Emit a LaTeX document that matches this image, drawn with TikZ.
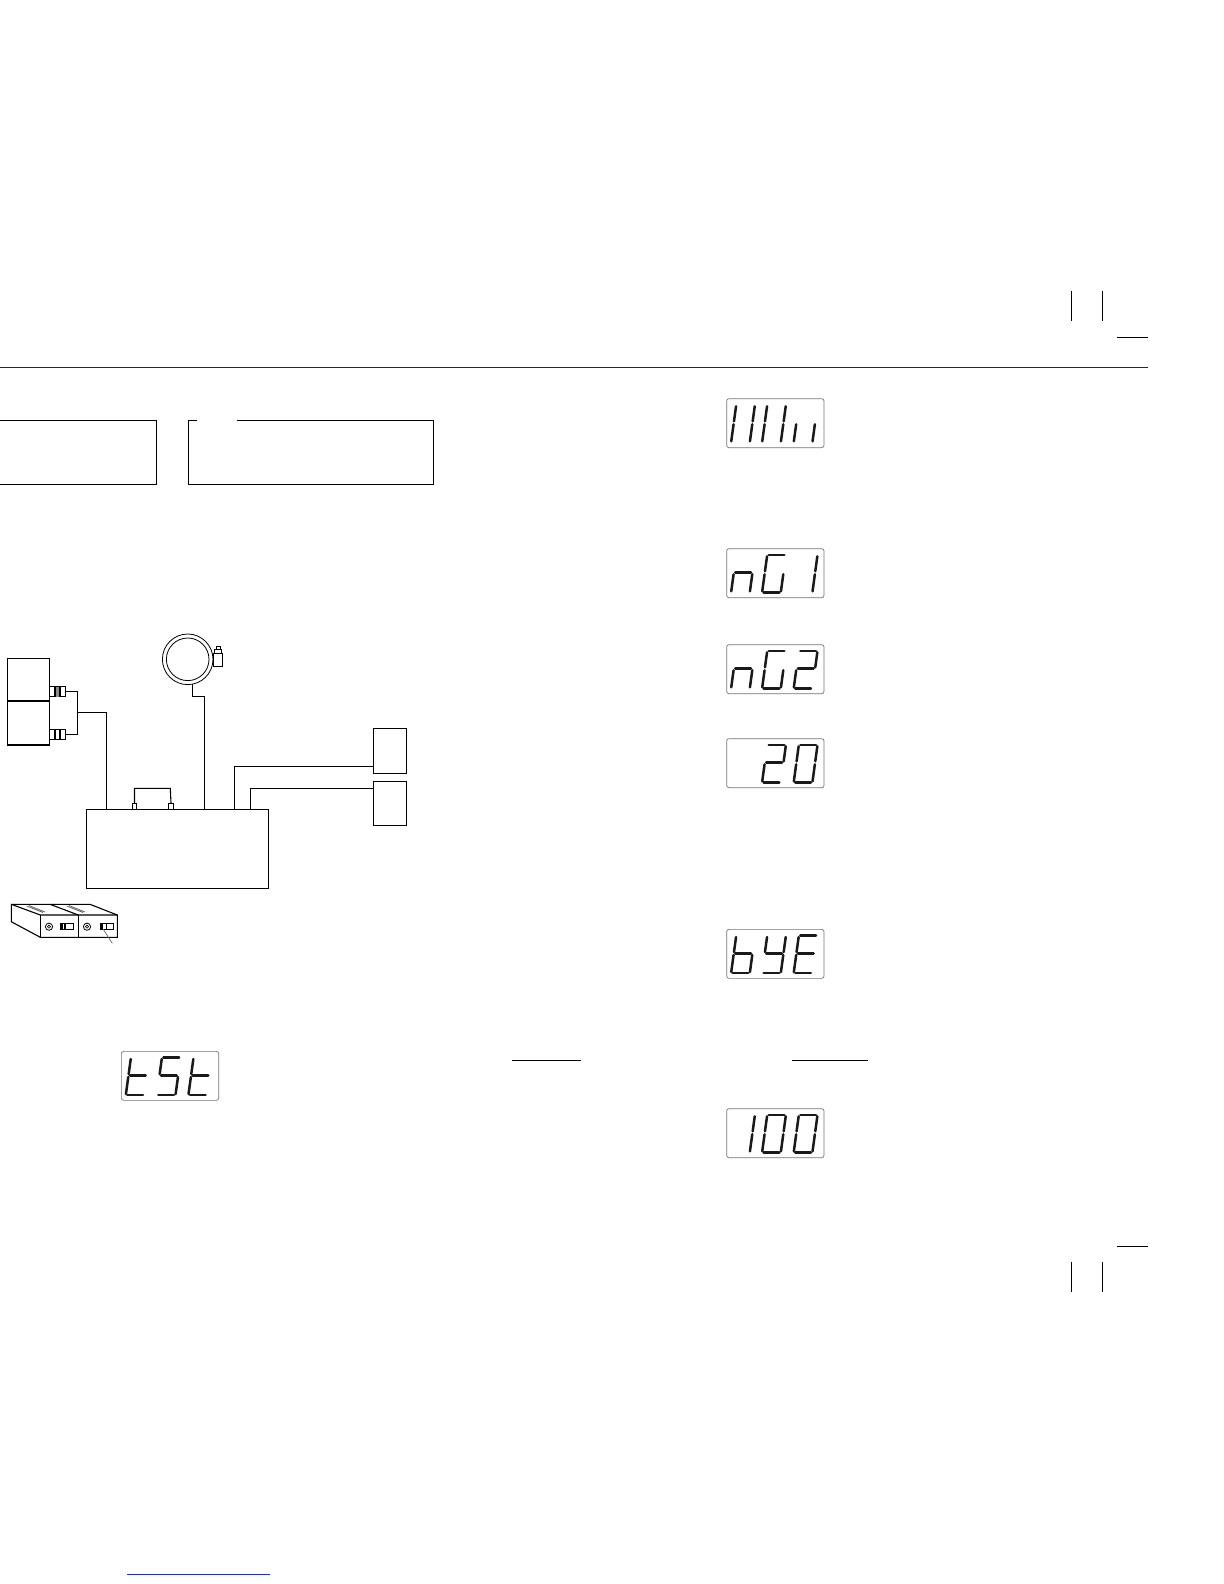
\documentclass[tikz,border=0pt]{standalone}
\usepackage{amsmath}
\definecolor{linkblue}{rgb}{0.1,0.2,0.75}

% one stroke each of a seven-segment digit
\newcommand{\lcdsega}{\draw[lcdseg] (1.5,37.3) -- (17.2,37.3);}
\newcommand{\lcdsegb}{\draw[lcdseg] (18.7,21) -- (18.7,36);}
\newcommand{\lcdsegc}{\draw[lcdseg] (18.7,1) -- (18.7,18);}
\newcommand{\lcdsegd}{\draw[lcdseg] (1.5,0) -- (17.2,0);}
\newcommand{\lcdsege}{\draw[lcdseg] (0,1) -- (0,18);}
\newcommand{\lcdsegf}{\draw[lcdseg] (0,21) -- (0,36);}
\newcommand{\lcdsegg}{\draw[lcdseg] (1.5,19.6) -- (17.2,19.6);}

\newcommand{\lcddigit}[2]{
  \begin{scope}[shift={(#1,-44)},xslant=.137]
    \foreach \s in {#2} {\csname lcdseg\s\endcsname}
  \end{scope}
}
% name, x, y, then the strokes of the three digits
\newcommand{\lcdpanel}[6]{
  \begin{scope}[shift={(#2,#3)}]
    \node[lcdbox] (#1) at (0,0) {};
    \lcddigit{4.8}{#4}
    \lcddigit{35.8}{#5}
    \lcddigit{67.4}{#6}
  \end{scope}
}

\tikzset{
  plainbox/.style={draw,rectangle,inner sep=0pt,outer sep=0pt,anchor=north west},
  lcdbox/.style={draw=black!55,line width=.35bp,rounded corners=1.2bp,inner sep=0pt,
    anchor=north west,minimum width=48.7bp,minimum height=24.5bp},
  lcdseg/.style={line width=1.25bp,line cap=round,black!90},
  ring/.style={draw,circle,inner sep=0pt,outer sep=0pt,line width=.4bp},
  wire/.style={line width=.55bp},
}

\begin{document}
\begin{tikzpicture}[x=.5bp,y=.5bp,line width=.55bp]
\useasboundingbox (0,0) rectangle (1224,-1584);

% crop marks and rule
\draw (1071.5,-291) -- (1071.5,-320.7);
\draw (1102.5,-291) -- (1102.5,-320.7);
\draw (1117,-337.5) -- (1148,-337.5);
\draw[black!85] (0,-367.5) -- (1148,-367.5);
\draw (1117,-1246.5) -- (1148,-1246.5);
\draw (1071.5,-1262) -- (1071.5,-1292);
\draw (1102.5,-1262) -- (1102.5,-1292);

% the two frames
\draw (0,-420.5) -- (156.5,-420.5) -- (156.5,-484.5) -- (0,-484.5);
\draw (197,-420.5) -- (188.5,-420.5) -- (188.5,-484.5) -- (433.5,-484.5)
  -- (433.5,-420.5) -- (237,-420.5);

% underlines
\draw (512,-1060.5) -- (581,-1060.5);
\draw (792,-1060.5) -- (867.5,-1060.5);
\draw[linkblue] (127,-1574.5) -- (270,-1574.5);

% wiring diagram
\node[plainbox,minimum width=21bp,minimum height=21.25bp] (senstop) at (7.5,-658.5) {};
\node[plainbox,minimum width=21bp,minimum height=22bp] (sensbot) at (7.5,-701) {};
\node[plainbox,minimum width=8bp,minimum height=5bp] (plugtop) at (49.5,-686.5) {};
\node[plainbox,minimum width=8bp,minimum height=5bp] (plugbot) at (49.5,-729.5) {};
\fill[black!45] (55,-686.5) rectangle (60,-696.5);
\draw (55,-686.5) -- (55,-696.5) (60,-686.5) -- (60,-696.5);
\draw (55,-729.5) -- (55,-739.5) (60,-729.5) -- (60,-739.5);

\node[plainbox,minimum width=91bp,minimum height=39.5bp] (ctrl) at (86.5,-809.5) {};
\node[plainbox,minimum width=16.5bp,minimum height=22.5bp] (loadtop) at (373.5,-728.5) {};
\node[plainbox,minimum width=16.5bp,minimum height=22bp] (loadbot) at (373.5,-781.5) {};

\node[ring,minimum size=25.3bp] (gauge) at (187.7,-659.3) {};
\node[ring,minimum size=21.3bp] (gaugein) at (187.7,-659.3) {};
\node[plainbox,minimum width=4.7bp,minimum height=6.7bp,line width=.45bp] (valve) at (213.3,-653.3) {};
\node[plainbox,minimum width=3.5bp,minimum height=2bp,line width=.4bp] (valvecap) at (214.8,-649.3) {};
\node[plainbox,minimum width=1.9bp,minimum height=1.3bp,line width=.4bp] (valvetip) at (216.6,-646.7) {};

\node[plainbox,minimum width=2.2bp,minimum height=3bp,line width=.4bp] (portl) at (132.3,-803.3) {};
\node[plainbox,minimum width=2.7bp,minimum height=3bp,line width=.4bp] (portr) at (168.3,-803.3) {};

\coordinate (junc) at (77.3,-712.3);
\coordinate (ctrlleft) at (106.7,-809.5);
\coordinate (ctrlgauge) at (204.3,-809.5);
\coordinate (ctrlhi) at (234.3,-809.5);
\coordinate (ctrllo) at (250.3,-809.5);

\draw[wire] (plugtop.east) -| (junc) |- (plugbot.east);
\draw[wire] (junc) -| (ctrlleft);
\draw[wire] (gauge.280) |- (204.3,-696.7) -- (ctrlgauge);
\draw[wire] (portl.north) |- (170.3,-788.3) -- (portr.north);
\draw[wire] (ctrlhi) |- (loadtop.west |- 0,-766.3);
\draw[wire] (ctrllo) |- (loadbot.west |- 0,-788.7);

% battery holder
\draw (11.3,-904.3) -- (90,-904.3) -- (117.3,-915) -- (117.3,-937.3) -- (40.3,-937.3)
  -- (11.3,-921.7) -- cycle;
\draw (11.3,-904.3) -- (40.3,-915) -- (117.3,-915);
\draw (40.3,-915) -- (40.3,-937.3);
\draw (78.3,-915) -- (78.3,-937.3);
\draw (50,-904.3) -- (78.3,-915);
\draw[black!65,line width=.35bp] (26.7,-906) -- (43,-912.5) (29,-905.5) -- (45,-912);
\draw[black!65,line width=.35bp] (66.7,-906) -- (83,-912.5) (69,-905.5) -- (85,-912);
\foreach \n/\x in {a/49,b/87} {
  \node[ring,minimum size=3.6bp] (knob\n) at (\x,-926.7) {};
  \node[ring,minimum size=1.6bp,line width=.3bp] (knobin\n) at (\x,-926.7) {};
}
\node[plainbox,minimum width=6.7bp,minimum height=3bp] (swa) at (60.3,-923.3) {};
\node[plainbox,minimum width=6.7bp,minimum height=3bp] (swb) at (100.3,-923.3) {};
\fill (60.3,-923.3) rectangle (62.5,-929.3);
\draw (65,-923.3) -- (65,-929.3);
\fill (100.3,-923.3) rectangle (103,-929.3);
\draw (106.7,-923.3) -- (106.7,-929.3);
\coordinate (swlead) at (112.3,-943.3);
\draw[black!60,line width=.35bp] (swb.south west) ++(3,0) -- (swlead);

% display panels
\lcdpanel{lcdfull}{726.3}{-398.3}{b,c,e,f}{b,c,e,f}{c,e}
\lcdpanel{lcdngone}{726.3}{-548.3}{c,e,g}{a,c,d,e,f}{b,c}
\lcdpanel{lcdngtwo}{726.3}{-644.3}{c,e,g}{a,c,d,e,f}{a,b,d,e,g}
\lcdpanel{lcdtwenty}{726.3}{-738.3}{}{a,b,d,e,g}{a,b,c,d,e,f}
\lcdpanel{lcdbye}{726.3}{-929}{c,d,e,f,g}{b,c,d,f,g}{a,d,e,f,g}
\lcdpanel{lcdhundred}{726.3}{-1108.3}{b,c}{a,b,c,d,e,f}{a,b,c,d,e,f}
\lcdpanel{lcdtst}{121}{-1051}{d,e,f,g}{a,c,d,f,g}{d,e,f,g}
\end{tikzpicture}
\end{document}
